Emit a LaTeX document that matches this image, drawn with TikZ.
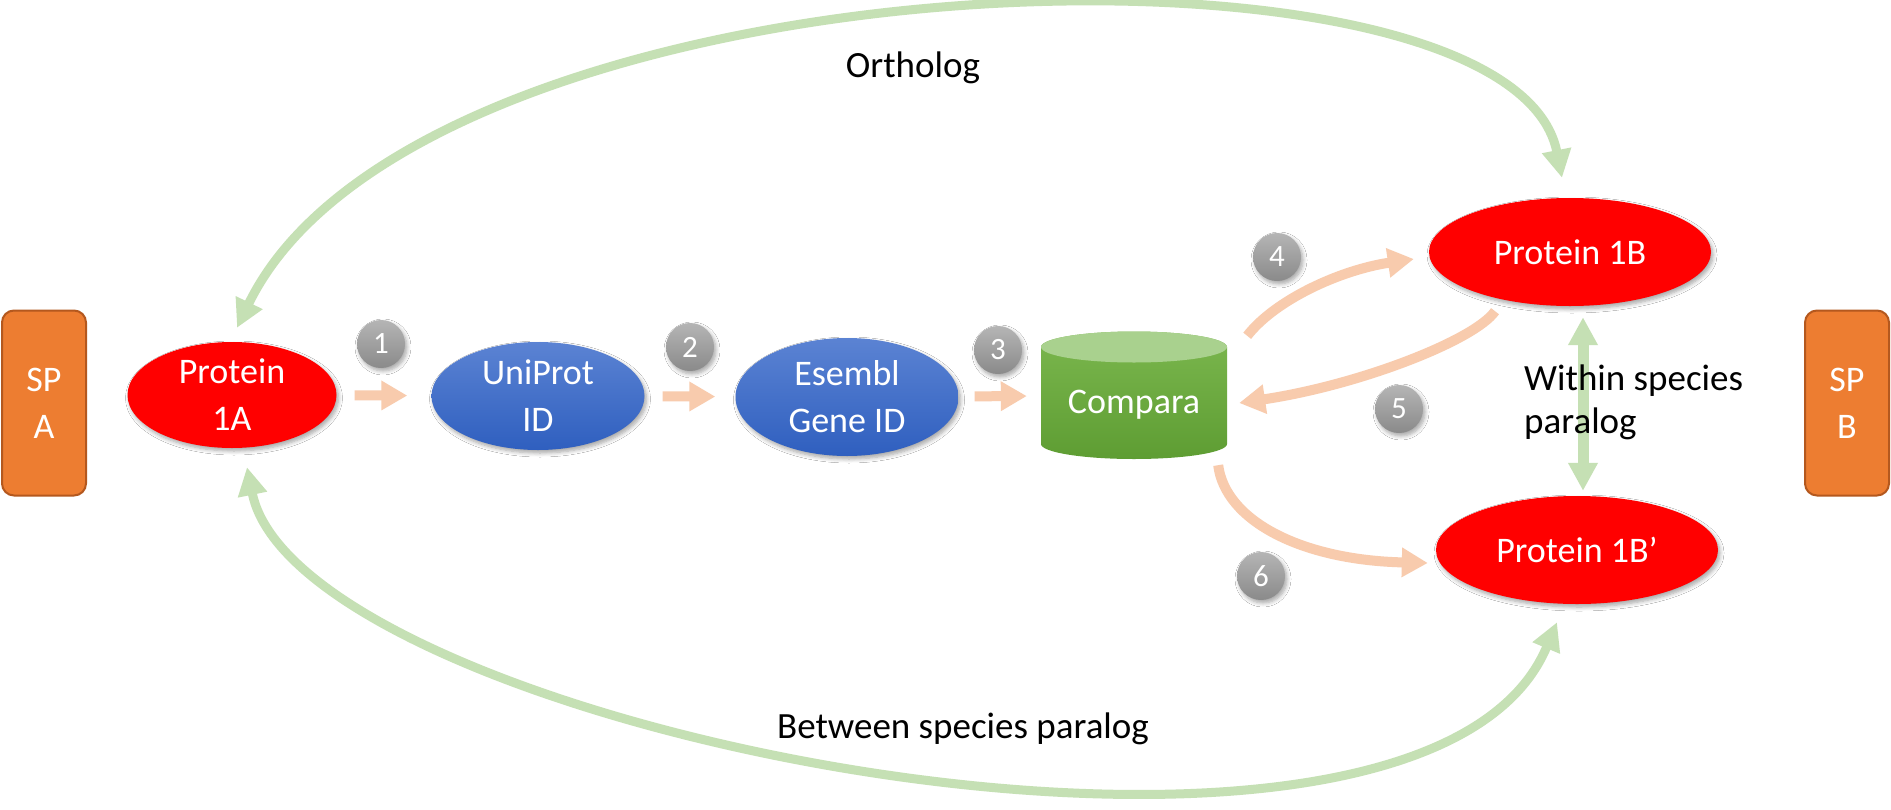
\documentclass[tikz,border=0pt]{standalone}
\usepackage{fontspec}
\setmainfont{Carlito}
\usetikzlibrary{shapes.geometric,arrows.meta,shadows.blur}
\definecolor{pred}{HTML}{FF0000}
\definecolor{blueT}{HTML}{5B83D3}
\definecolor{blueB}{HTML}{2F5FBF}
\definecolor{spOr}{HTML}{ED7D31}
\definecolor{spBd}{HTML}{B4581E}
\definecolor{peach}{HTML}{F8CBAD}
\definecolor{lgreen}{HTML}{C5E0B4}
\definecolor{cylT}{HTML}{A9D18E}
\definecolor{cylA}{HTML}{7BB74E}
\definecolor{cylB}{HTML}{5E9D33}
\definecolor{badgeT}{HTML}{B5B5B5}
\definecolor{badgeB}{HTML}{8A8A8A}
\begin{document}
\begin{tikzpicture}[x=1pt,y=-1pt,
  shad/.style={blur shadow={shadow xshift=2pt,shadow yshift=-3pt,shadow blur radius=4pt,shadow blur steps=6,shadow opacity=35}},
  redell/.style={ellipse,fill=pred,draw=none,inner sep=0pt,shad},
  blueell/.style={ellipse,top color=blueT,bottom color=blueB,draw=none,inner sep=0pt,shad},
  sptag/.style={rectangle,rounded corners=12pt,fill=spOr,draw=spBd,line width=2pt,inner sep=0pt,minimum width=84pt,minimum height=185pt},
  wtxt/.style={text=white,font=\fontsize{36}{47}\selectfont,align=center,inner sep=0pt},
  btxt/.style={text=black,font=\fontsize{37}{44}\selectfont,inner sep=0pt},
  badge/.style={circle,minimum size=48pt,inner sep=0pt,top color=badgeT,bottom color=badgeB,shad,text=white,font=\fontsize{31}{31}\selectfont},
  oarrow/.style={draw=peach,line width=10pt,-{Triangle[width=28pt,length=26pt]}},
  garrow/.style={draw=lgreen,line width=9pt,{Triangle[width=28pt,length=28pt]}-{Triangle[width=28pt,length=28pt]}},
]
\useasboundingbox (0,0) rectangle (1891,809);
\fill[white] (0,0) rectangle (1891,809);

% species tags
\node[sptag] (spa) at (44,403) {};
\node[wtxt] (spat) at (spa.center) {SP\\A};
\node[sptag] (spb) at (1847,403) {};
\node[wtxt] (spbt) at (spb.center) {SP\\B};

% pipeline nodes
\node[redell,minimum width=209pt,minimum height=106pt] (p1a) at (232,395) {};
\node[wtxt] (p1at) at (p1a.center) {Protein\\1A};
\node[blueell,minimum width=213pt,minimum height=108pt] (uni) at (538,396) {};
\node[wtxt] (unit) at (uni.center) {UniProt\\ID};
\node[blueell,minimum width=223pt,minimum height=118pt] (ens) at (847,397) {};
\node[wtxt] (enst) at (ens.center) {Esembl\\Gene ID};

% Compara cylinder
\node[minimum width=186pt,minimum height=127pt,inner sep=0pt] (cmp) at (1134,395.5) {};
\shade[top color=cylA,bottom color=cylB] (1041,347) -- (1041,444) arc[start angle=180,end angle=0,x radius=93,y radius=15] -- (1227,347) arc[start angle=0,end angle=-180,x radius=93,y radius=15.5] -- cycle;
\fill[cylT] (1134,347) ellipse[x radius=93,y radius=15.5];
\node[wtxt] (cmpt) at (1134,405) {Compara};

\node[redell,minimum width=282pt,minimum height=108pt] (p1b) at (1570,252) {};
\node[wtxt] (p1bt) at (p1b.center) {Protein 1B};
\node[redell,minimum width=282pt,minimum height=108pt] (p1bp) at (1577,550) {};
\node[wtxt] (p1bpt) at (p1bp.center) {Protein 1B’};

% badges
\node[badge] (b1) at (381,344) {1};
\node[badge] (b2) at (690,347) {2};
\node[badge] (b3) at (998,350) {3};
\node[badge] (b4) at (1277,257) {4};
\node[badge] (b5) at (1399,409) {5};
\node[badge] (b6) at (1261,576) {6};

% pipeline arrows
\draw[oarrow,shorten <=18pt,shorten >=24pt] (p1a) -- (uni);
\draw[oarrow,shorten <=18pt,shorten >=20pt] (uni) -- (ens);
\draw[oarrow,shorten <=16pt,shorten >=14pt] (ens) -- (cmp);
\draw[oarrow] ([xshift=20pt,yshift=-4pt]cmp.north east) .. controls (1275,300) and (1340,270) .. ([xshift=-15pt,yshift=-7pt]p1b.west);
\draw[oarrow] ([xshift=-75pt,yshift=-5pt]p1b.south) .. controls (1475,340) and (1360,385) .. ([xshift=12pt,yshift=-7.5pt]cmp.east);
\draw[oarrow] ([xshift=-9pt,yshift=-6pt]cmp.south east) .. controls (1225,520) and (1300,560) .. ([xshift=-8pt,yshift=-13pt]p1bp.west);

% relation arrows
\draw[garrow] ([xshift=5pt,yshift=14pt]p1a.north) .. controls (420,-50) and (1510,-85) .. ([xshift=-8pt,yshift=20pt]p1b.north);
\draw[garrow] ([xshift=15pt,yshift=-19pt]p1a.south) .. controls (300,730) and (1420,950) .. ([xshift=-20pt,yshift=-18pt]p1bp.south);
\draw[garrow,line width=11pt,shorten <=11pt,shorten >=5pt] ([xshift=13pt]p1b.south) -- ([xshift=6pt]p1bp.north);

% labels
\node[btxt,anchor=base] (orth) at (913,77) {Ortholog};
\node[btxt,anchor=base west] (betw) at (777,738) {Between species paralog};
\node[btxt,anchor=base west] (with1) at (1524,390) {Within species};
\node[btxt,anchor=base west] (with2) at (1524,433) {paralog};
\end{tikzpicture}
\end{document}
